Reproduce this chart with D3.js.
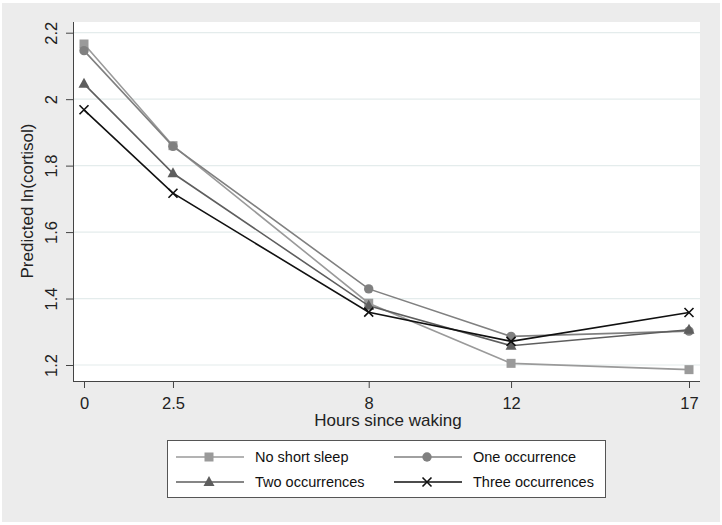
<!DOCTYPE html>
<html><head><meta charset="utf-8">
<script src="https://cdn.jsdelivr.net/npm/d3@7"></script>
<style>body{margin:0;background:#fff}svg{display:block}text{font-family:"Liberation Sans",Arial,sans-serif}</style>
</head><body>
<script>
const hours = [0, 2.5, 8, 12, 17];
const xTicks = ["0", "2.5", "8", "12", "17"];
const yTicks = [1.2, 1.4, 1.6, 1.8, 2.0, 2.2];
const seriesNames = ["No short sleep", "One occurrence", "Two occurrences", "Three occurrences"];
const noShort = [2.166, 1.860, 1.386, 1.205, 1.186];
const oneOcc = [2.146, 1.858, 1.429, 1.286, 1.302];
const twoOcc = [2.046, 1.777, 1.378, 1.258, 1.306];
const threeOcc = [1.968, 1.717, 1.359, 1.271, 1.358];
const seriesValues = [noShort, oneOcc, twoOcc, threeOcc];
const colors = ["#9a9a9a", "#808080", "#5e5e5e", "#111111"];
const markers = ["square", "circle", "triangle", "x"];

const W = 722, H = 525;
const svg = d3.select("body").append("svg").attr("width", W).attr("height", H);
svg.append("rect").attr("width", W).attr("height", H).attr("fill", "#fff");
svg.append("rect").attr("x", 2).attr("y", 3).attr("width", W - 4).attr("height", H - 6).attr("fill", "#ececec");

const pl = 73, pr = 700, pt = 22, pb = 381;
svg.append("rect").attr("x", pl).attr("y", pt).attr("width", pr - pl).attr("height", pb - pt).attr("fill", "#fff");

const x = d3.scaleLinear().domain([0, 17]).range([84, 689]);
const y = d3.scaleLinear().domain([1.2, 2.2]).range([365, 32.7]);

// grid
svg.append("g").selectAll("line").data(yTicks).join("line")
  .attr("x1", pl).attr("x2", pr).attr("y1", d => y(d)).attr("y2", d => y(d))
  .attr("stroke", "#e4ecec").attr("stroke-width", 1.2);

// axes
const xAxis = svg.append("g").attr("transform", `translate(0,${pb})`)
  .call(d3.axisBottom(x).tickValues(hours).tickFormat((d, i) => xTicks[i]).tickSize(7).tickPadding(9));
xAxis.select(".domain").attr("d", `M${pl},0.5H${pr}`).attr("stroke", "#444");
xAxis.selectAll(".tick line").attr("stroke", "#444");
xAxis.selectAll("text").attr("font-size", 16.5).attr("fill", "#222");

const yAxis = svg.append("g").attr("transform", `translate(${pl},0)`)
  .call(d3.axisLeft(y).tickValues(yTicks).tickFormat(d => d3.format("")(+d.toFixed(1))).tickSize(7));
yAxis.select(".domain").attr("d", `M0.5,${pt}V${pb}`).attr("stroke", "#444");
yAxis.selectAll(".tick line").attr("stroke", "#444");
yAxis.selectAll("text").attr("font-size", 16.5).attr("fill", "#222")
  .attr("transform", "rotate(-90)").attr("x", 0).attr("y", -16).attr("dy", "0").attr("text-anchor", "middle");

// titles
svg.append("text").attr("x", 388).attr("y", 426).attr("text-anchor", "middle")
  .attr("font-size", 17).attr("fill", "#222").text("Hours since waking");
svg.append("text").attr("transform", "translate(33,201) rotate(-90)").attr("text-anchor", "middle")
  .attr("font-size", 17).attr("fill", "#222").text("Predicted ln(cortisol)");

function drawMarker(g, type, cx, cy, color) {
  if (type === "square") {
    g.append("rect").attr("x", cx - 4.5).attr("y", cy - 4.5).attr("width", 9).attr("height", 9).attr("fill", color);
  } else if (type === "circle") {
    g.append("circle").attr("cx", cx).attr("cy", cy).attr("r", 4.7).attr("fill", color);
  } else if (type === "triangle") {
    g.append("path").attr("d", `M${cx},${cy - 6}L${cx + 5.5},${cy + 4}L${cx - 5.5},${cy + 4}Z`).attr("fill", color);
  } else {
    g.append("path").attr("d", `M${cx - 4.5},${cy - 4.5}L${cx + 4.5},${cy + 4.5}M${cx - 4.5},${cy + 4.5}L${cx + 4.5},${cy - 4.5}`)
      .attr("stroke", color).attr("stroke-width", 1.6).attr("fill", "none");
  }
}

const line = d3.line().x((d, i) => x(hours[i])).y(d => y(d));
seriesValues.forEach((vals, s) => {
  const g = svg.append("g");
  g.append("path").attr("d", line(vals)).attr("fill", "none").attr("stroke", colors[s]).attr("stroke-width", 1.6);
  vals.forEach((v, i) => drawMarker(g, markers[s], x(hours[i]), y(v), colors[s]));
});

// legend
const lg = svg.append("g");
lg.append("rect").attr("x", 167.5).attr("y", 440.5).attr("width", 438).attr("height", 57)
  .attr("fill", "#fff").attr("stroke", "#555").attr("stroke-width", 1);
const legPos = [[176, 457], [394, 457], [176, 482], [394, 482]];
seriesNames.forEach((name, s) => {
  const [lx, ly] = legPos[s];
  lg.append("line").attr("x1", lx).attr("x2", lx + 68).attr("y1", ly).attr("y2", ly)
    .attr("stroke", colors[s]).attr("stroke-width", 1.6);
  drawMarker(lg, markers[s], lx + 33, ly, colors[s]);
  lg.append("text").attr("x", lx + 79).attr("y", ly + 5).attr("font-size", 14.5).attr("fill", "#111").text(name);
});
</script>
</body></html>
